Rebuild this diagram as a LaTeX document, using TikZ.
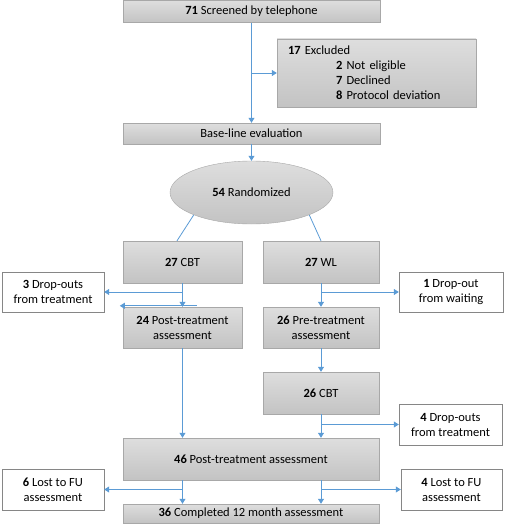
\documentclass[tikz,border=0pt]{standalone}
\usepackage{fontspec}
\setmainfont{Carlito}
\usepackage{tikz}
\usetikzlibrary{shapes.geometric}
\usetikzlibrary{positioning}
\usepgflibrary{arrows.meta}

\definecolor{boxtop}{HTML}{DEDEDE}
\definecolor{boxbot}{HTML}{C3C3C3}
\definecolor{boxline}{HTML}{A8A8A8}
\definecolor{linkblue}{HTML}{5B9BD5}

\tikzset{
  greybox/.style={draw=boxline, top color=boxtop, bottom color=boxbot,
    rectangle, inner sep=2pt, align=center, font=\fontsize{12.5}{15}\selectfont},
  whitebox/.style={draw=boxline!80!black, fill=white, rectangle, inner sep=2pt,
    align=center, font=\fontsize{12.5}{15}\selectfont},
  link/.style={draw=linkblue, line width=0.8pt, -{Triangle[length=5pt,width=6pt]}},
  plainlink/.style={draw=linkblue, line width=0.8pt}
}

\begin{document}
\begin{tikzpicture}[x=1pt,y=-1pt]
  \useasboundingbox (0,0) rectangle (505,524);

  % main column
  \node[greybox, minimum width=257pt, minimum height=22pt] (screen) at (251.5,11.5) {\textbf{71} Screened by telephone};
  \node[greybox, minimum width=199pt, minimum height=68pt, text width=177pt, align=left] (excl) at (376.5,73)
    {\textbf{17} Excluded\\
     \hspace*{48pt}\textbf{2} Not eligible\\
     \hspace*{48pt}\textbf{7} Declined\\
     \hspace*{48pt}\textbf{8} Protocol deviation};
  \node[greybox, minimum width=257pt, minimum height=21pt] (base) at (251.5,133.5) {Base-line evaluation};
  \node[greybox, ellipse, minimum width=163pt, minimum height=63pt] (rand) at (251.5,192.5) {\textbf{54} Randomized};

  % two arms
  \node[greybox, minimum width=119pt, minimum height=42pt] (cbt) at (182.5,262) {\textbf{27} CBT};
  \node[greybox, minimum width=116pt, minimum height=42pt] (wl) at (321,262) {\textbf{27} WL};
  \node[whitebox, minimum width=102pt, minimum height=40pt] (drop3) at (53,292) {\textbf{3} Drop-outs\\from treatment};
  \node[whitebox, minimum width=104pt, minimum height=40pt] (drop1) at (451,292) {\textbf{1} Drop-out\\from waiting};
  \node[greybox, minimum width=119pt, minimum height=41pt] (post24) at (182.5,327.5) {\textbf{24} Post-treatment\\assessment};
  \node[greybox, minimum width=116pt, minimum height=41pt] (pre26) at (321,327.5) {\textbf{26} Pre-treatment\\assessment};
  \node[greybox, minimum width=116pt, minimum height=42pt] (cbt26) at (321,393) {\textbf{26} CBT};
  \node[whitebox, minimum width=103pt, minimum height=41pt] (drop4) at (450.5,424.5) {\textbf{4} Drop-outs\\from treatment};

  % follow-up
  \node[greybox, minimum width=256pt, minimum height=42pt] (post46) at (251,459) {\textbf{46} Post-treatment assessment};
  \node[whitebox, minimum width=102pt, minimum height=41pt] (lost6) at (53,489.5) {\textbf{6} Lost to FU\\assessment};
  \node[whitebox, minimum width=101pt, minimum height=41pt] (lost4) at (451.5,489.5) {\textbf{4} Lost to FU\\assessment};
  \node[greybox, minimum width=256pt, minimum height=19pt, inner sep=1pt] (done36) at (251,513.5) {\textbf{36} Completed 12 month assessment};

  % connectors
  \draw[link] (screen) -- (base);
  \draw[link] (screen.south |- excl.west) -- (excl.west);
  \draw[link] (base) -- (rand);
  \draw[plainlink] (rand.south west) -- ([xshift=-5.5pt]cbt.north);
  \draw[plainlink] (rand.south east) -- (wl.north);

  \draw[link] (cbt) -- (post24);
  \draw[link] (cbt.south |- drop3.east) -- (drop3.east);
  \draw[link] ([xshift=14pt,yshift=1pt]post24.north) -- ([xshift=-3pt,yshift=1pt]post24.north west);
  \draw[link] (wl) -- (pre26);
  \draw[link] (wl.south |- drop1.west) -- (drop1.west);
  \draw[link] (pre26) -- (cbt26);
  \draw[link] (cbt26) -- (cbt26 |- post46.north);
  \draw[link] (cbt26.south |- drop4.west) -- (drop4.west);
  \draw[link] (post24) -- (post24 |- post46.north);

  \draw[link] (post46.south -| post24) -- (done36.north -| post24);
  \draw[link] (post24 |- lost6.east) -- (lost6.east);
  \draw[link] (post46.south -| cbt26) -- (done36.north -| cbt26);
  \draw[link] (cbt26 |- lost4.west) -- (lost4.west);
\end{tikzpicture}
\end{document}
